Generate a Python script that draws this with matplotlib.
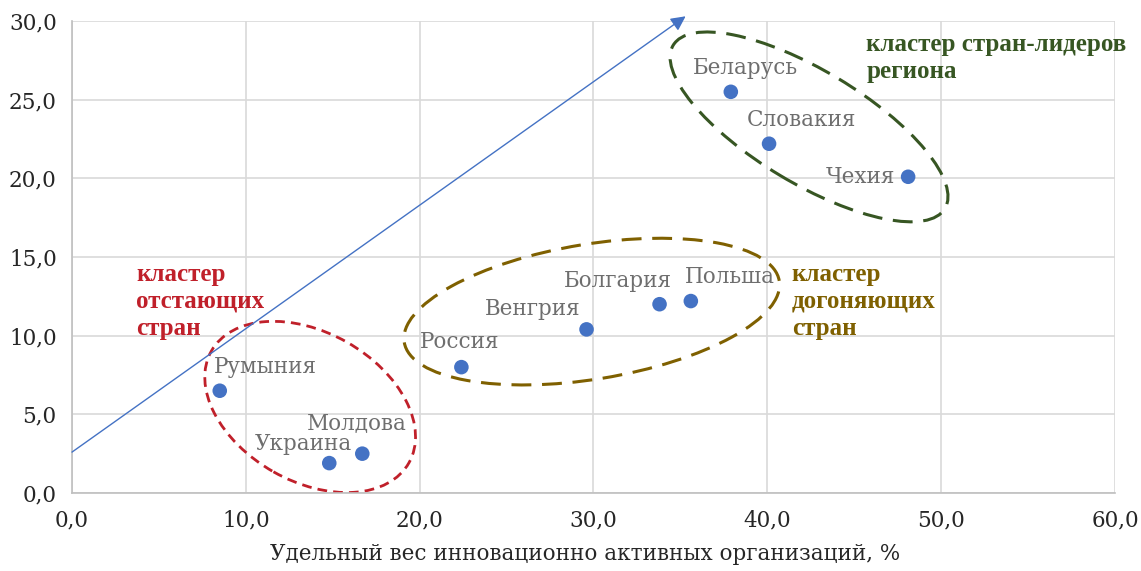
import matplotlib.pyplot as plt
from matplotlib.patches import Ellipse
from matplotlib.transforms import ScaledTranslation

plt.rcParams['font.family'] = ['DejaVu Serif']

countries = ['Румыния', 'Украина', 'Молдова', 'Россия', 'Венгрия',
             'Болгария', 'Польша', 'Беларусь', 'Словакия', 'Чехия']
x_vals = [8.5, 14.8, 16.7, 22.4, 29.6, 33.8, 35.6, 37.9, 40.1, 48.1]
y_vals = [6.5, 1.9, 2.5, 8.0, 10.4, 12.0, 12.2, 25.5, 22.2, 20.1]

x_ticks = [0, 10, 20, 30, 40, 50, 60]
y_ticks = [0, 5, 10, 15, 20, 25, 30]
x_label = 'Удельный вес инновационно активных организаций, %'

# label offsets in pixels (dx, dy, ha)
lbl_off = [(46, 24, 'center'), (-26, 19, 'center'), (-5, 31, 'center'),
           (-2, 25, 'center'), (-54, 20, 'center'), (-42, 23, 'center'),
           (39, 24, 'center'), (15, 24, 'center'), (32, 24, 'center'),
           (-13, 0, 'right')]

# clusters: text, colour, text position, ellipse centre (data), size px, angle, dashes
clusters = [
    ('кластер\nотстающих\nстран', '#C0202A', (3.7, 12.2), (13.7, 5.47), (227, 149), -29.5, (3.5, 2.2), 2.0),
    ('кластер\nдогоняющих\nстран', '#7F6000', (41.4, 12.2), (29.9, 11.53), (380, 135), 9.3, (6.5, 3.5), 2.2),
    ('кластер стран-лидеров\nрегиона', '#375623', (45.7, 27.65), (42.4, 23.27), (317, 113), -31, (6.5, 3.5), 2.2),
]

fig = plt.figure(figsize=(11.41, 5.71), dpi=100)
ax = fig.add_axes([0.0631, 0.1366, 0.9141, 0.8266])

ax.set_xlim(0, 60)
ax.set_ylim(0, 30)
ax.set_xticks(x_ticks)
ax.set_yticks(y_ticks)
ax.set_xticklabels([f'{v:.1f}'.replace('.', ',') for v in x_ticks])
ax.set_yticklabels([f'{v:.1f}'.replace('.', ',') for v in y_ticks])
ax.tick_params(length=0, labelsize=15.5, colors='#262626')
ax.tick_params(axis='x', pad=12)
ax.tick_params(axis='y', pad=11)
ax.grid(True, color='#d9d9d9', lw=1.2)
ax.set_axisbelow(True)
for s in ['top', 'right']:
    ax.spines[s].set_visible(False)
for s in ['left', 'bottom']:
    ax.spines[s].set_color('#bfbfbf')
    ax.spines[s].set_linewidth(1.2)

# trend arrow
ax.annotate('', xy=(35.3, 30.3), xytext=(0, 2.6),
            arrowprops=dict(arrowstyle='-|>', color='#4472C4', lw=1.0,
                            mutation_scale=22, shrinkA=0, shrinkB=0),
            annotation_clip=False)

ax.scatter(x_vals, y_vals, s=110, color='#4472C4', zorder=5, edgecolors='none')

for name, x, y, (dx, dy, ha) in zip(countries, x_vals, y_vals, lbl_off):
    ax.annotate(name, (x, y), xytext=(dx, dy), textcoords='offset pixels',
                ha=ha, va='center', fontsize=15.5, color='#6e6e6e')

for txt, col, tpos, cen, (w, h), ang, dash, lw in clusters:
    tr = fig.dpi_scale_trans + ScaledTranslation(cen[0], cen[1], ax.transData)
    e = Ellipse((0, 0), w / 100, h / 100, angle=ang, transform=tr,
                fill=False, edgecolor=col, lw=lw, linestyle=(0, dash))
    ax.add_patch(e)
    ax.text(tpos[0], tpos[1], txt, color=col, fontsize=18, fontweight='bold',
            family=['Liberation Serif'], ha='left', va='center', linespacing=1.22)

ax.set_xlabel(x_label, fontsize=15.5, color='#262626')
ax.xaxis.set_label_coords(0.492, -0.105)
ax.xaxis.label.set_va('top')

fig.savefig('out.png', dpi=100)
